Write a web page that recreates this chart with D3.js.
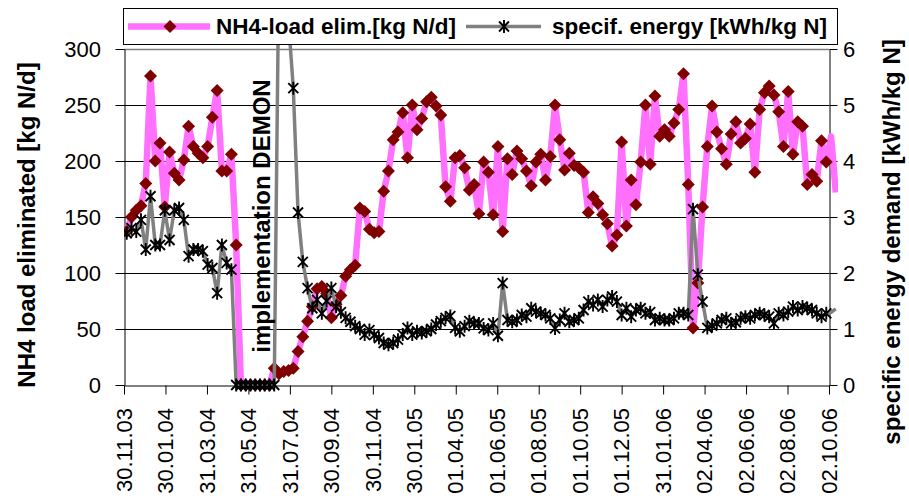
<!DOCTYPE html>
<html>
<head>
<meta charset="utf-8">
<script src="https://cdn.jsdelivr.net/npm/d3@7"></script>
<style>
  body { margin: 0; background: #fff; }
  text { font-family: "Liberation Sans", Arial, sans-serif; fill: #000; }
</style>
</head>
<body>
<div id="chart"></div>
<script>
var svgWidth = 909;
var svgHeight = 501;

var margin = { top: 49, right: 80, bottom: 116, left: 124 };
var width = 705;
var height = 336;

// x axis tick labels (every 61 days)
var tickLabels = ["30.11.03", "30.01.04", "31.03.04", "31.05.04", "31.07.04", "30.09.04",
  "30.11.04", "30.01.05", "01.04.05", "01.06.05", "01.08.05", "01.10.05", "01.12.05",
  "31.01.06", "02.04.06", "02.06.06", "02.08.06", "02.10.06"];
var leftTicks = [0, 50, 100, 150, 200, 250, 300];
var rightTicks = [0, 1, 2, 3, 4, 5, 6];

// weekly samples, first one on 04.12.03
var firstSample = "04.12.03";

// NH4-load eliminated [kg N/d]
var loadElim = [
  137, 150, 156, 160, 180, 276, 200, 216, 159, 208,
  189, 183, 201, 231, 213, 207, 203, 213, 239, 263,
  191, 191, 206, 125, 0, 0, 0, 0, 0, 0,
  0, 15, 10, 12, 13, 15, 30, 43, 57, 70,
  86, 88, 82, 60, 72, 80, 97, 103, 107, 158,
  155, 139, 136, 137, 173, 191, 219, 226, 243, 203,
  250, 228, 238, 253, 257, 249, 241, 177, 164, 203,
  205, 194, 174, 179, 153, 199, 190, 152, 213, 137,
  202, 188, 209, 202, 191, 178, 199, 206, 183, 204,
  250, 219, 192, 207, 196, 194, 190, 154, 168, 162,
  152, 144, 124, 134, 217, 142, 183, 161, 199, 250,
  197, 258, 222, 228, 222, 234, 246, 278, 179, 51,
  91, 159, 213, 249, 226, 211, 197, 224, 235, 216,
  220, 233, 190, 246, 261, 267, 259, 244, 213, 262,
  206, 235, 231, 179, 188, 182, 218, 199, 222, 172
];

// specific energy demand [kWh/kg N]
var specEnergy = [
  2.71, 2.8, 2.74, 2.95, 2.42, 3.37, 2.5, 2.5, 3.12, 2.59,
  3.12, 3.16, 2.95, 2.3, 2.42, 2.42, 2.39, 2.15, 2.09, 1.64,
  2.5, 2.18, 2.06, 0, 0, 0, 0, 0, 0, 0,
  0, 0, 7.7, 7.0, 6.5, 5.3, 3.08, 2.2, 1.73, 1.37,
  1.52, 1.28, 1.5, 1.73, 1.4, 1.3, 1.2, 1.13, 1.05, 1.0,
  0.9, 0.98, 0.89, 0.84, 0.75, 0.72, 0.75, 0.81, 0.9, 1.02,
  0.9, 0.96, 0.93, 0.96, 1.0, 1.08, 1.14, 1.2, 1.23, 1.02,
  0.96, 1.05, 1.14, 1.1, 1.1, 1.01, 0.98, 1.1, 0.88, 1.82,
  1.16, 1.13, 1.16, 1.25, 1.22, 1.37, 1.31, 1.28, 1.25, 1.19,
  1.01, 1.16, 1.28, 1.13, 1.16, 1.19, 1.34, 1.49, 1.43, 1.52,
  1.4, 1.52, 1.58, 1.49, 1.25, 1.37, 1.22, 1.34, 1.37, 1.28,
  1.3, 1.16, 1.19, 1.16, 1.16, 1.19, 1.28, 1.28, 1.25, 3.14,
  1.97, 1.49, 1.02, 1.06, 1.1, 1.16, 1.19, 1.1, 1.12, 1.19,
  1.22, 1.19, 1.25, 1.28, 1.25, 1.22, 1.1, 1.28, 1.25, 1.31,
  1.4, 1.34, 1.4, 1.37, 1.34, 1.28, 1.22, 1.28, 1.3, 1.36
];

var parseDate = d3.utcParse("%d.%m.%y");
var startDay = parseDate(firstSample);
var sampleDates = loadElim.map(function(d, i) { return d3.utcDay.offset(startDay, 7 * i); });

var svg = d3.select("#chart")
  .append("svg")
  .attr("width", svgWidth)
  .attr("height", svgHeight);

var chartGroup = svg.append("g")
  .attr("transform", `translate(${margin.left}, ${margin.top})`);

// scales
var xTime = d3.scaleUtc()
  .domain([parseDate(tickLabels[0]), parseDate(tickLabels[tickLabels.length - 1])])
  .range([0, width]);
var yLoad = d3.scaleLinear().domain([0, 300]).range([height, 0]);
var yEnergy = d3.scaleLinear().domain([0, 6]).range([height, 0]);

// gridlines
chartGroup.append("g")
  .selectAll("line")
  .data(leftTicks.slice(1))
  .enter()
  .append("line")
  .attr("x1", 0)
  .attr("x2", width)
  .attr("y1", d => Math.round(yLoad(d)) + 0.5)
  .attr("y2", d => Math.round(yLoad(d)) + 0.5)
  .attr("stroke", d => d === 300 ? "#808080" : "#000")
  .attr("stroke-width", d => d === 300 ? 1.5 : 1);

// axes
var bottomAxis = d3.axisBottom(xTime)
  .tickValues(tickLabels.map(parseDate))
  .tickFormat("")
  .tickSizeInner(9)
  .tickSizeOuter(0);
var leftAxis = d3.axisLeft(yLoad)
  .tickValues(leftTicks)
  .tickFormat("")
  .tickSizeInner(9)
  .tickSizeOuter(0);
var rightAxis = d3.axisRight(yEnergy)
  .tickValues(rightTicks)
  .tickFormat("")
  .tickSizeInner(8)
  .tickSizeOuter(0);

chartGroup.append("g")
  .attr("transform", `translate(0, ${height + 0.5})`)
  .call(bottomAxis);
chartGroup.append("g")
  .attr("transform", "translate(0.5, 0)")
  .call(leftAxis);
chartGroup.append("g")
  .attr("transform", `translate(${width + 0.5}, 0)`)
  .call(rightAxis);
chartGroup.selectAll(".domain, .tick line")
  .attr("stroke", "#000")
  .attr("stroke-width", 1);

// tick labels
chartGroup.append("g")
  .selectAll("text")
  .data(leftTicks)
  .enter()
  .append("text")
  .attr("x", -23)
  .attr("y", d => yLoad(d))
  .attr("dy", "0.35em")
  .attr("text-anchor", "end")
  .style("font-size", "22px")
  .text(d => d);

chartGroup.append("g")
  .selectAll("text")
  .data(rightTicks)
  .enter()
  .append("text")
  .attr("x", width + 14)
  .attr("y", d => yEnergy(d))
  .attr("dy", "0.35em")
  .attr("text-anchor", "start")
  .style("font-size", "22px")
  .text(d => d);

chartGroup.append("g")
  .selectAll("text")
  .data(tickLabels)
  .enter()
  .append("text")
  .attr("transform", d => `translate(${xTime(parseDate(d))}, ${height + 23}) rotate(-90)`)
  .attr("dy", "0.35em")
  .attr("text-anchor", "end")
  .style("font-size", "22px")
  .text(d => d);

// series, clipped to the chart area
svg.append("clipPath")
  .attr("id", "plotClip")
  .append("rect")
  .attr("x", 0)
  .attr("y", -40)
  .attr("width", 714)
  .attr("height", height + 50);

var seriesGroup = chartGroup.append("g").attr("clip-path", "url(#plotClip)");

var loadLine = d3.line()
  .x((d, i) => xTime(sampleDates[i]))
  .y(d => yLoad(d));
var energyLine = d3.line()
  .x((d, i) => xTime(sampleDates[i]))
  .y(d => yEnergy(d));

var diamondPath = "M0,-6.5L6.5,0L0,6.5L-6.5,0Z";
var starPath = "M-5,-5L5,5M-5,5L5,-5M0,-6.5L0,6.5";

seriesGroup.append("path")
  .datum(loadElim)
  .attr("d", loadLine)
  .attr("fill", "none")
  .attr("stroke", "#ff70ff")
  .attr("stroke-width", 6.5)
  .attr("stroke-linejoin", "round");

seriesGroup.append("g")
  .selectAll("path")
  .data(loadElim.filter((d, i) => xTime(sampleDates[i]) <= width + 1))
  .enter()
  .append("path")
  .attr("transform", (d, i) => `translate(${xTime(sampleDates[i])}, ${yLoad(d)})`)
  .attr("d", diamondPath)
  .attr("fill", "#800000");

seriesGroup.append("path")
  .datum(specEnergy)
  .attr("d", energyLine)
  .attr("fill", "none")
  .attr("stroke", "#808080")
  .attr("stroke-width", 3.5)
  .attr("stroke-linejoin", "round");

seriesGroup.append("g")
  .selectAll("path")
  .data(specEnergy.filter((d, i) => xTime(sampleDates[i]) <= width + 1))
  .enter()
  .append("path")
  .attr("transform", (d, i) => `translate(${xTime(sampleDates[i])}, ${yEnergy(d)})`)
  .attr("d", starPath)
  .attr("fill", "none")
  .attr("stroke", "#000")
  .attr("stroke-width", 1.9);

// annotation
chartGroup.append("text")
  .attr("transform", `translate(${138}, ${167}) rotate(-90)`)
  .attr("dy", "0.35em")
  .attr("text-anchor", "middle")
  .style("font-size", "24px")
  .style("font-weight", "bold")
  .text("implementation DEMON");

// axis titles
svg.append("text")
  .attr("transform", "translate(27, 225) rotate(-90)")
  .attr("dy", "0.35em")
  .attr("text-anchor", "middle")
  .style("font-size", "24px")
  .style("font-weight", "bold")
  .text("NH4 load eliminated [kg N/d]");

svg.append("text")
  .attr("transform", "translate(892, 242) rotate(-90)")
  .attr("dy", "0.35em")
  .attr("text-anchor", "middle")
  .style("font-size", "24px")
  .style("font-weight", "bold")
  .text("specific energy demand [kWh/kg N]");

// legend
var legend = svg.append("g");
legend.append("rect")
  .attr("x", 123.5)
  .attr("y", 8.5)
  .attr("width", 714)
  .attr("height", 36)
  .attr("fill", "#fff")
  .attr("stroke", "#000");

legend.append("line")
  .attr("x1", 128).attr("x2", 210)
  .attr("y1", 26.5).attr("y2", 26.5)
  .attr("stroke", "#ff70ff")
  .attr("stroke-width", 6.5);
legend.append("path")
  .attr("transform", "translate(170, 26.5)")
  .attr("d", diamondPath)
  .attr("fill", "#800000");
legend.append("text")
  .attr("x", 216)
  .attr("y", 26.5)
  .attr("dy", "0.35em")
  .style("font-size", "22.5px")
  .style("font-weight", "bold")
  .text("NH4-load elim.[kg N/d]");

legend.append("line")
  .attr("x1", 466).attr("x2", 541)
  .attr("y1", 26.5).attr("y2", 26.5)
  .attr("stroke", "#808080")
  .attr("stroke-width", 3.5);
legend.append("path")
  .attr("transform", "translate(504, 26.5)")
  .attr("d", starPath)
  .attr("fill", "none")
  .attr("stroke", "#000")
  .attr("stroke-width", 1.9);
legend.append("text")
  .attr("x", 552)
  .attr("y", 26.5)
  .attr("dy", "0.35em")
  .style("font-size", "22.5px")
  .style("font-weight", "bold")
  .text("specif. energy [kWh/kg N]");
</script>
</body>
</html>
